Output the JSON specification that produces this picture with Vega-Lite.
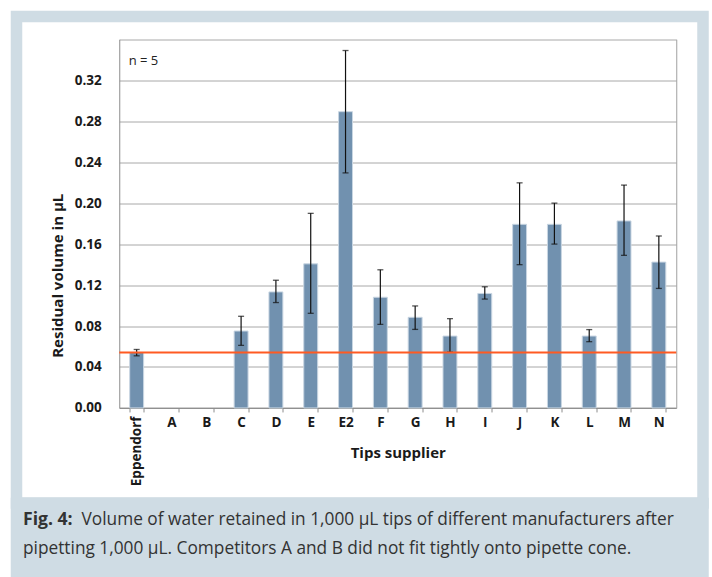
{
  "$schema": "https://vega.github.io/schema/vega-lite/v6.json",
  "padding": {"left": 10.5, "top": 10.5, "right": 0, "bottom": 0},
  "background": "white",
  "spacing": 0,
  "bounds": "flush",
  "datasets": {
    "tips": [
      {"supplier": "Eppendorf", "volume": 0.0542, "lo": 0.0509, "hi": 0.0571},
      {"supplier": "A", "volume": null, "lo": null, "hi": null},
      {"supplier": "B", "volume": null, "lo": null, "hi": null},
      {"supplier": "C", "volume": 0.0751, "lo": 0.0611, "hi": 0.0895},
      {"supplier": "D", "volume": 0.1133, "lo": 0.1029, "hi": 0.1247},
      {"supplier": "E", "volume": 0.1407, "lo": 0.0924, "hi": 0.1900},
      {"supplier": "E2", "volume": 0.2893, "lo": 0.2295, "hi": 0.3490},
      {"supplier": "F", "volume": 0.1081, "lo": 0.0816, "hi": 0.1349},
      {"supplier": "G", "volume": 0.0885, "lo": 0.0767, "hi": 0.0996},
      {"supplier": "H", "volume": 0.0702, "lo": 0.0545, "hi": 0.0872},
      {"supplier": "I", "volume": 0.1118, "lo": 0.1063, "hi": 0.1183},
      {"supplier": "J", "volume": 0.1793, "lo": 0.1399, "hi": 0.2198},
      {"supplier": "K", "volume": 0.1793, "lo": 0.1600, "hi": 0.2000},
      {"supplier": "L", "volume": 0.0702, "lo": 0.0647, "hi": 0.0765},
      {"supplier": "M", "volume": 0.1826, "lo": 0.1490, "hi": 0.2176},
      {"supplier": "N", "volume": 0.1424, "lo": 0.1167, "hi": 0.1679}
    ],
    "reference": [
      {"label": "Eppendorf level", "volume": 0.0542, "first": "Eppendorf", "last": "N"}
    ],
    "note": [
      {"note": "n = 5", "supplier": "Eppendorf", "volume": 0.339}
    ],
    "caption": [
      {"line": 1, "part": "label", "text": "Fig. 4:"},
      {"line": 1, "part": "body", "text": "Volume of water retained in 1,000 µL tips of different manufacturers after"},
      {"line": 2, "part": "body", "text": "pipetting 1,000 µL. Competitors A and B did not fit tightly onto pipette cone."}
    ]
  },
  "vconcat": [
    {
      "width": 686.5,
      "height": 486.5,
      "view": {"fill": "white", "stroke": "#cfdce4", "strokeWidth": 11.5},
      "layer": [
        {
          "data": {"name": "tips"},
          "mark": {"type": "bar", "color": "#7191af", "stroke": "#c9d6e2", "strokeWidth": 1},
          "encoding": {
            "x": {
              "field": "supplier",
              "type": "nominal",
              "scale": {
                "domain": ["Eppendorf", "A", "B", "C", "D", "E", "E2", "F", "G", "H", "I", "J", "K", "L", "M", "N"],
                "range": [102.75, 659.75],
                "paddingInner": 0.6,
                "paddingOuter": 0.3
              },
              "axis": {
                "title": "Tips supplier",
                "orient": "bottom",
                "offset": -95.05,
                "grid": false,
                "domainColor": "#8c8c8c",
                "tickColor": "#8c8c8c",
                "tickBand": "extent",
                "tickSize": 4,
                "labelPadding": 4,
                "labelAngle": {"expr": "datum.value === 'Eppendorf' ? 270 : 0"},
                "labelAlign": {"condition": {"test": "datum.value === 'Eppendorf'", "value": "right"}, "value": "center"},
                "labelBaseline": {"condition": {"test": "datum.value === 'Eppendorf'", "value": "middle"}, "value": "top"},
                "labelBound": false,
                "labelOverlap": false,
                "labelFontSize": 13.5,
                "titleY": 44.5,
                "titleBaseline": "middle",
                "titlePadding": 0
              }
            },
            "y": {
              "field": "volume",
              "type": "quantitative",
              "scale": {"domain": [0, 0.36], "range": [391.45, 22.75], "nice": false},
              "axis": {
                "title": "Residual volume in µL",
                "orient": "left",
                "offset": -102.75,
                "values": [0, 0.04, 0.08, 0.12, 0.16, 0.2, 0.24, 0.28, 0.32, 0.36],
                "labelExpr": "datum.value > 0.35 ? '' : format(datum.value, '.2f')",
                "grid": true,
                "gridColor": "#a8a8a8",
                "gridWidth": 1,
                "domainColor": "#8c8c8c",
                "ticks": false,
                "labelPadding": 18,
                "labelFontSize": 13.5,
                "titleX": -62,
                "titleY": 258.75,
                "titleAngle": 270,
                "titleAlign": "center",
                "titleBaseline": "middle"
              }
            }
          }
        },
        {
          "data": {"name": "tips"},
          "mark": {"type": "rule", "color": "#111111", "strokeWidth": 1.2},
          "encoding": {
            "x": {"field": "supplier", "type": "nominal"},
            "y": {"field": "lo", "type": "quantitative", "axis": null},
            "y2": {"field": "hi"}
          }
        },
        {
          "data": {"name": "tips"},
          "mark": {"type": "tick", "color": "#111111", "size": 6, "thickness": 1.3},
          "encoding": {
            "x": {"field": "supplier", "type": "nominal"},
            "y": {"field": "lo", "type": "quantitative", "axis": null}
          }
        },
        {
          "data": {"name": "tips"},
          "mark": {"type": "tick", "color": "#111111", "size": 6, "thickness": 1.3},
          "encoding": {
            "x": {"field": "supplier", "type": "nominal"},
            "y": {"field": "hi", "type": "quantitative", "axis": null}
          }
        },
        {
          "data": {"name": "reference"},
          "mark": {"type": "rule", "color": "#ff5a22", "strokeWidth": 2, "xOffset": -17.4, "x2Offset": 17.4},
          "encoding": {
            "x": {"field": "first", "type": "nominal"},
            "x2": {"field": "last"},
            "y": {
              "field": "volume",
              "type": "quantitative",
              "axis": {
                "orient": "right",
                "offset": -26.75,
                "title": null,
                "labels": false,
                "ticks": false,
                "grid": false,
                "domainColor": "#a0a0a0"
              }
            }
          }
        },
        {
          "data": {"name": "note"},
          "mark": {"type": "text", "align": "left", "baseline": "middle", "dx": -8, "fontSize": 13, "font": "Open Sans", "color": "#222222"},
          "encoding": {
            "x": {"field": "supplier", "type": "nominal"},
            "y": {"field": "volume", "type": "quantitative", "axis": null},
            "text": {"field": "note"}
          }
        }
      ],
      "resolve": {"axis": {"y": "independent"}}
    },
    {
      "width": 686.5,
      "height": 80,
      "view": {"fill": "#cfdce4", "stroke": "#cfdce4", "strokeWidth": 11.5},
      "data": {"name": "caption"},
      "encoding": {
        "x": {"datum": 0, "type": "quantitative", "scale": {"domain": [0, 1]}, "axis": null},
        "y": {"field": "line", "type": "quantitative", "scale": {"domain": [0.4397, 3.198], "reverse": true, "nice": false, "zero": false}, "axis": null},
        "text": {"field": "text"}
      },
      "layer": [
        {
          "transform": [{"filter": "datum.part === 'label'"}],
          "mark": {"type": "text", "align": "left", "baseline": "middle", "dx": 6.5, "font": "Open Sans", "fontSize": 17.6, "fontWeight": "bold", "color": "#333333"}
        },
        {
          "transform": [{"filter": "datum.part === 'body' && datum.line === 1"}],
          "mark": {"type": "text", "align": "left", "baseline": "middle", "dx": 65, "font": "Open Sans", "fontSize": 17.3, "color": "#333333"}
        },
        {
          "transform": [{"filter": "datum.part === 'body' && datum.line === 2"}],
          "mark": {"type": "text", "align": "left", "baseline": "middle", "dx": 6.5, "font": "Open Sans", "fontSize": 17.3, "color": "#333333"}
        }
      ]
    }
  ],
  "config": {
    "view": {"stroke": null},
    "font": "Open Sans",
    "axis": {
      "labelFont": "Open Sans",
      "labelFontWeight": "bold",
      "labelColor": "#1a1a1a",
      "titleFont": "Open Sans",
      "titleFontWeight": "bold",
      "titleFontSize": 15,
      "titleColor": "#1a1a1a"
    }
  }
}
